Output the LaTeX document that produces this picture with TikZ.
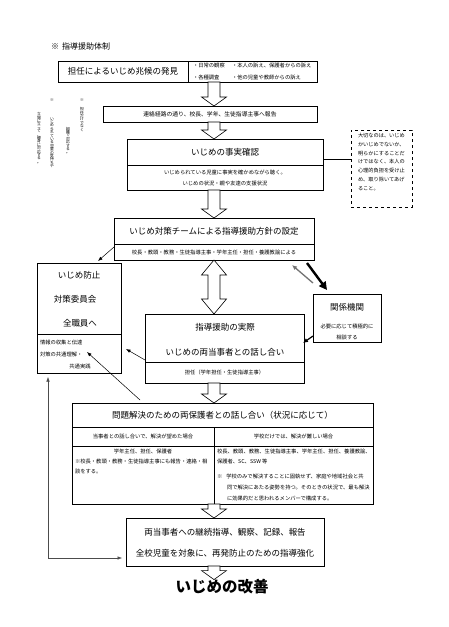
\documentclass[tikz,border=0pt]{standalone}
\usepackage{fontspec}
\setmainfont{Noto Sans CJK JP}
\usetikzlibrary{calc,arrows.meta}
\newcommand\myFT{\fontsize{8.5}{10}\selectfont}
\newcommand\myFM{\fontsize{8}{10}\selectfont}
\newcommand\myFS{\fontsize{5.3}{11}\selectfont}
\newcommand\myFSb{\fontsize{5.8}{10}\selectfont}
\newcommand\myFN{\fontsize{5.2}{8.7}\selectfont}
\newcommand\myFV{\fontsize{3.8}{3.4}\selectfont\lineskiplimit=-10pt\lineskip=0pt}
\newcommand\myFX{\fontsize{15.5}{18}\selectfont\bfseries}
\tikzset{
  bx/.style={draw,line width=0.7pt,inner sep=0pt,outer sep=0pt},
  txt/.style={inner sep=0pt,outer sep=0pt},
  vt/.style={inner sep=0pt,outer sep=0pt,align=center,font=\myFV,anchor=north},
  hollow/.style={draw,line width=0.6pt,fill=white},
  thinarr/.style={-{Latex[length=4.5pt,width=3.5pt]},line width=0.5pt},
  medarr/.style={-{Latex[length=5pt,width=4.5pt]},line width=1.2pt},
  thickarr/.style={-{Triangle[length=8pt,width=8pt]},line width=2.4pt},
  grayarr/.style={-{Latex[length=5pt,width=4.5pt]},line width=1.3pt,draw=black!55},
}
\newcommand\hollowarr[3]{%
  \path (#1,0 |- #2) coordinate (ha1) (#1,0 |- #3) coordinate (ha2);
  \draw[hollow] ($(ha1)+(-6,0)$) -- ($(ha1)+(6,0)$) -- ($(ha2)+(6,-9)$) -- ($(ha2)+(12.5,-9)$) -- (ha2) -- ($(ha2)+(-12.5,-9)$) -- ($(ha2)+(-6,-9)$) -- cycle;}
\newcommand\hollowdbl[3]{%
  \path (#1,0 |- #2) coordinate (ha1) (#1,0 |- #3) coordinate (ha2);
  \draw[hollow] (ha1) -- ($(ha1)+(12.5,15)$) -- ($(ha1)+(6,15)$) -- ($(ha2)+(6,-15)$) -- ($(ha2)+(12.5,-15)$) -- (ha2) -- ($(ha2)+(-12.5,-15)$) -- ($(ha2)+(-6,-15)$) -- ($(ha1)+(-6,15)$) -- ($(ha1)+(-12.5,15)$) -- cycle;}
\begin{document}
\begin{tikzpicture}[x=1pt,y=-1pt]
\fill[white] (0,0) rectangle (449,627);
\useasboundingbox (0,0) rectangle (449,627);

% title
\node[txt,anchor=west,font=\myFM] (ttl) at (51,46) {※\hspace{3pt}指導援助体制};

% box 1
\node[bx,minimum width=130pt,minimum height=21pt,font=\myFT] (b1l) at (123,71.5) {担任によるいじめ兆候の発見};
\node[bx,minimum width=129pt,minimum height=21pt] (b1r) at (252.5,71.5) {};
\node[txt,anchor=west,font=\myFS] (o1) at (193,65) {・日常の観察};
\node[txt,anchor=west,font=\myFS] (o2) at (232,65) {・本人の訴え、保護者からの訴え};
\node[txt,anchor=west,font=\myFS] (o3) at (193,77.5) {・各種調査};
\node[txt,anchor=west,font=\myFS] (o4) at (232,77.5) {・他の児童や教師からの訴え};

% box 2
\node[bx,minimum width=214pt,minimum height=16pt,font=\myFSb] (b2) at (210,114) {連絡経路の通り、校長、学年、生徒指導主事へ報告};

% box 3
\node[bx,minimum width=196pt,minimum height=26pt,font=\myFT] (b3t) at (225,152) {いじめの事実確認};
\node[bx,minimum width=196pt,minimum height=25pt] (b3b) at (225,177.5) {};
\node[txt,align=center,font=\myFS] (b3s) at (b3b) {いじめられている児童に事実を確かめながら聴く。\\いじめの状況・親や友達の支援状況};

% note
\node[bx,dashed,minimum width=61pt,minimum height=77pt] (note) at (381.5,168.5) {};
\node[txt,anchor=north west,align=left,font=\myFN] (notet) at (358,133.5) {大切なのは、いじめ\\かいじめでないか、\\明らかにすることだ\\けではなく、本人の\\心理的負担を受け止\\め、取り除いてあげ\\ること。};
\draw[line width=0.6pt] (b3t.east |- 0,159) -- (note.west |- 0,159);

% vertical notes
\node[vt] (vAm) at (82,99) {※};
\node[vt] (vA) at (82,107.5) {担\\任\\だ\\け\\で\\な\\く};
\node[vt] (vB) at (68,127) {組\\織\\で\\対\\応\\す\\る\\。};
\node[vt] (vCm) at (52,99) {※};
\node[vt] (vC) at (52,117.5) {い\\じ\\め\\ら\\れ\\て\\い\\る\\児\\童\\の\\気\\持\\ち\\や};
\node[vt] (vD) at (39,112.5) {立\\場\\に\\立\\っ\\て\\、\\親\\身\\に\\対\\応\\す\\る\\。};

% box 4
\node[bx,minimum width=200pt,minimum height=26pt,font=\myFT] (b4t) at (214,231) {いじめ対策チームによる指導援助方針の設定};
\node[bx,minimum width=200pt,minimum height=16pt,font=\myFS] (b4b) at (214,252) {校長・教頭・教務・生徒指導主事・学年主任・担任・養護教諭による};

% left committee box
\node[bx,minimum width=84pt,minimum height=71pt] (lt) at (79,298.5) {};
\node[txt,font=\myFT] (lt1) at (79,275) {いじめ防止};
\node[txt,font=\myFT] (lt2) at (75,299) {対策委員会};
\node[txt,font=\myFT] (lt3) at (80,323) {全職員へ};
\node[bx,minimum width=84pt,minimum height=39pt] (lb) at (79,353.5) {};
\node[txt,anchor=west,font=\myFS] (lb1) at (40,342) {情報の収集と伝達};
\node[txt,anchor=west,font=\myFS] (lb2) at (40,354) {対策の共通理解・};
\node[txt,font=\myFS] (lb3) at (80,366) {共通実践};

% related agencies
\node[bx,minimum width=68pt,minimum height=48pt] (rel) at (347,318) {};
\node[txt,font=\myFT] (rel1) at (347,307) {関係機関};
\node[txt,align=center,font=\myFS] (rel2) at (347,331.5) {必要に応じて積極的に\\相談する};

% box 5
\node[bx,minimum width=159pt,minimum height=48pt] (b5t) at (224.5,338) {};
\node[txt,font=\myFT] (b5a) at (225,327) {指導援助の実際};
\node[txt,font=\myFT] (b5c) at (225,352) {いじめの両当事者との話し合い};
\node[bx,minimum width=159pt,minimum height=21pt,font=\myFS] (b5b) at (224.5,372.5) {担任（学年担任・生徒指導主事）};

% box 6
\node[bx,minimum width=301pt,minimum height=24pt,font=\myFT] (b6t) at (222.5,415) {問題解決のための両保護者との話し合い（状況に応じて）};
\node[bx,minimum width=142pt,minimum height=19pt,font=\myFS] (b6l) at (143,436.5) {当事者との話し合いで、解決が望めた場合};
\node[bx,minimum width=159pt,minimum height=19pt,font=\myFS] (b6r) at (293.5,436.5) {学校だけでは、解決が難しい場合};
\node[bx,minimum width=142pt,minimum height=58pt] (b6lb) at (143,475) {};
\node[bx,minimum width=159pt,minimum height=58pt] (b6rb) at (293.5,475) {};
\node[txt,font=\myFS] (l1) at (143,451) {学年主任、担任、保護者};
\node[txt,anchor=west,font=\myFS] (l2) at (75,461) {※校長・教頭・教務・生徒指導主事にも報告・連絡・相};
\node[txt,anchor=west,font=\myFS] (l3) at (75,471) {談をする。};
\node[txt,anchor=west,font=\myFS] (r1) at (217,451) {校長、教頭、教務、生徒指導主事、学年主任、担任、養護教諭、};
\node[txt,anchor=west,font=\myFS] (r2) at (217,461) {保護者、SC、SSW 等};
\node[txt,anchor=west,font=\myFS] (r3) at (217,477) {※\hspace{4pt}学校のみで解決することに固執せず、家庭や地域社会と共};
\node[txt,anchor=west,font=\myFS] (r4) at (227,487) {同で解決にあたる姿勢を持つ。そのときの状況で、最も解決};
\node[txt,anchor=west,font=\myFS] (r5) at (227,498) {に効果的だと思われるメンバーで構成する。};

% box 7
\node[bx,minimum width=198pt,minimum height=48pt] (b7) at (225,542) {};
\node[txt,font=\myFT] (b7a) at (225,532) {両当事者への継続指導、観察、記録、報告};
\node[txt,font=\myFT] (b7b) at (225,553) {全校児童を対象に、再発防止のための指導強化};

% final
\node[txt,font=\myFX] (fin) at (222,587) {いじめの改善};

% hollow arrows
\hollowarr{214}{b1l.south}{b2.north}
\hollowarr{214}{b2.south}{b3t.north}
\hollowarr{214}{b3b.south}{b4t.north}
\hollowdbl{214}{b4b.south}{b5t.north}
\hollowarr{214}{b5b.south}{b6t.north}
\hollowarr{214}{b6lb.south}{b7.north}
\hollowarr{214}{b7.south}{fin.north}

% connectors
\draw[thinarr] ($(b4b.west)+(0,-5)$) -- ($(98,0 |- lt.north)+(0,-2)$);
\draw[thickarr] ($(b4b.south east)+(-7,3)$) -- ($(rel.north west)+(14,-4)$);
\draw[grayarr] ($(rel.north west)+(0,-11)$) -- ($(b4b.south east)+(-22,5)$);
\draw[medarr] ($(rel.west)+(0,18)$) -- ($(b5t.east)+(-1,5)$);
\draw[thinarr] ($(b5t.west)+(0,22)$) -- ($(lb.east)+(5,-4.5)$);
\draw[thinarr] ($(b6t.north west)+(68,-3)$) -- ($(lb.north)+(8,18)$);
\coordinate (lp) at (48,558);
\draw[thinarr,draw=black!70] (lp) -- ($(48,0 |- lb.south)+(0,4)$);
\draw[thinarr,draw=black!70] (lp) -- ($(b7.west |- lp)+(-4,0)$);
\end{tikzpicture}
\end{document}
